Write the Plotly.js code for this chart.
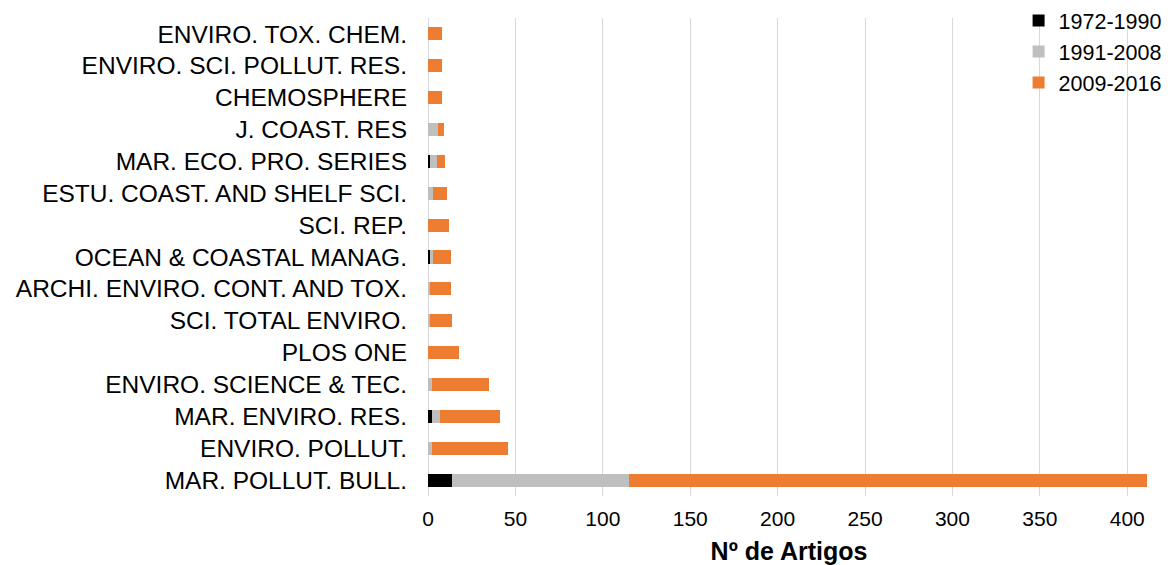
<!DOCTYPE html>
<html><head><meta charset="utf-8">
<script src="https://cdn.plot.ly/plotly-3.0.1.min.js"></script>
<style>html,body{margin:0;padding:0;background:#fff}#chart{width:1172px;height:565px}</style>
</head><body><div id="chart"></div>
<script>
const categories = ["MAR. POLLUT. BULL.","ENVIRO. POLLUT.","MAR. ENVIRO. RES.","ENVIRO. SCIENCE & TEC.","PLOS ONE","SCI. TOTAL ENVIRO.","ARCHI. ENVIRO. CONT. AND TOX.","OCEAN & COASTAL MANAG.","SCI. REP.","ESTU. COAST. AND SHELF SCI.","MAR. ECO. PRO. SERIES","J. COAST. RES","CHEMOSPHERE","ENVIRO. SCI. POLLUT. RES.","ENVIRO. TOX. CHEM."];
const p1972_1990 = [14,0,2,0,0,0,0,1,0,0,1,0,0,0,0];
const p1991_2008 = [101,2,5,2,0,1,1,2,0,3,4,6,0,0,0];
const p2009_2016 = [296,44,34,33,18,13,12,10,12,8,5,3,8,8,8];
const seriesNames = ["1972-1990","1991-2008","2009-2016"];
const colors = ["#000000","#bfbfbf","#ed7d31"];
const font = "Liberation Sans, Arial, sans-serif";
const data = [p1972_1990,p1991_2008,p2009_2016].map((v,i)=>({
  type:'bar', orientation:'h', y:categories, x:v, name:seriesNames[i],
  marker:{color:colors[i]}
}));
const layout = {
  barmode:'stack', bargap:0.59,
  width:1172, height:565,
  margin:{l:428, r:22, t:18, b:69, autoexpand:false},
  paper_bgcolor:'#fff', plot_bgcolor:'#fff',
  font:{family:font, size:21, color:'#000'},
  xaxis:{range:[0,413], tickvals:[0,50,100,150,200,250,300,350,400], showgrid:true, gridcolor:'#d9d9d9', gridwidth:1,
    zeroline:true, zerolinecolor:'#d9d9d9', showline:false, ticks:'', tickfont:{size:21}, ticklabelstandoff:8,
    title:{text:'<b>Nº de Artigos</b>', font:{size:25}, standoff:14}},
  yaxis:{categoryorder:'array', categoryarray:categories, showgrid:false, zeroline:false, showline:false, ticks:'',
    ticklabelstandoff:20, tickfont:{size:24.5}},
  legend:{x:0.818, xanchor:'left', yref:'container', y:1.0, yanchor:'top', traceorder:'normal', font:{size:21.5}, itemwidth:30, bgcolor:'rgba(0,0,0,0)'},
  showlegend:true
};
Plotly.newPlot('chart', data, layout, {staticPlot:true});
</script></body></html>
